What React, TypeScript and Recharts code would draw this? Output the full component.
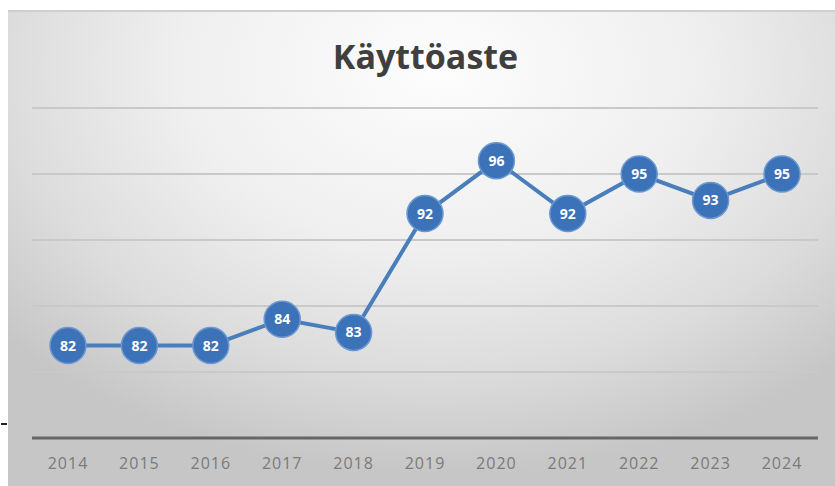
import { LineChart, Line, XAxis, YAxis, CartesianGrid, LabelList } from 'recharts'

const years = ['2014', '2015', '2016', '2017', '2018', '2019', '2020', '2021', '2022', '2023', '2024']
const utilization = [82, 82, 82, 84, 83, 92, 96, 92, 95, 93, 95]
const yTicks = [75, 80, 85, 90, 95, 100]

const data = years.map((year, i) => ({ year, value: utilization[i] }))

const font = '"Open Sans", "Noto Sans", sans-serif'

// white number drawn in the middle of each dot
const DotLabel = (props: any) => {
  const { x, y, value } = props
  return (
    <text
      x={x}
      y={y}
      dy={5}
      textAnchor="middle"
      fill="#ffffff"
      fontSize={14}
      fontWeight={700}
      fontFamily={font}
    >
      {value}
    </text>
  )
}

export default function App() {
  return (
    <div style={{ position: 'absolute', left: 0, top: 0, width: 835, height: 486, background: '#fff' }}>
      {/* gray panel behind the chart */}
      <div
        style={{
          position: 'absolute',
          left: 8,
          top: 10,
          width: 827,
          height: 476,
          borderTop: '2px solid #cfcfcf',
          background:
            'radial-gradient(ellipse 70% 85% at 52% 12%, #fdfdfd 0%, #efefef 45%, #dcdcdc 75%, #c6c6c6 100%)'
        }}
      />
      <div style={{ position: 'absolute', left: 1, top: 423, width: 6, height: 2, background: '#222' }} />
      <div
        style={{
          position: 'absolute',
          left: 12,
          top: 33,
          width: 827,
          textAlign: 'center',
          fontFamily: font,
          fontWeight: 700,
          fontSize: 34,
          color: '#3f3f3f'
        }}
      >
        Käyttöaste
      </div>
      <div style={{ position: 'absolute', left: 0, top: 0 }}>
        <LineChart width={835} height={486} data={data} margin={{ top: 108, right: 17, bottom: 0, left: 32 }}>
          <CartesianGrid vertical={false} stroke="#c9c9c9" strokeWidth={2} />
          <XAxis
            dataKey="year"
            height={48}
            padding={{ left: 36, right: 36 }}
            axisLine={{ stroke: '#666666', strokeWidth: 3 }}
            tickLine={false}
            tick={{ fill: '#7a7a7a', fontSize: 16, fontFamily: font, letterSpacing: 1 }}
            tickMargin={14}
            interval={0}
          />
          <YAxis hide domain={[75, 100]} ticks={yTicks} width={0} />
          <Line
            type="linear"
            dataKey="value"
            stroke="#4a7ebb"
            strokeWidth={4}
            dot={{ r: 18, fill: '#3c72b8', stroke: '#6b98d2', strokeWidth: 1.5 }}
            activeDot={false}
            isAnimationActive={false}
          >
            <LabelList dataKey="value" content={DotLabel} />
          </Line>
        </LineChart>
      </div>
    </div>
  )
}
